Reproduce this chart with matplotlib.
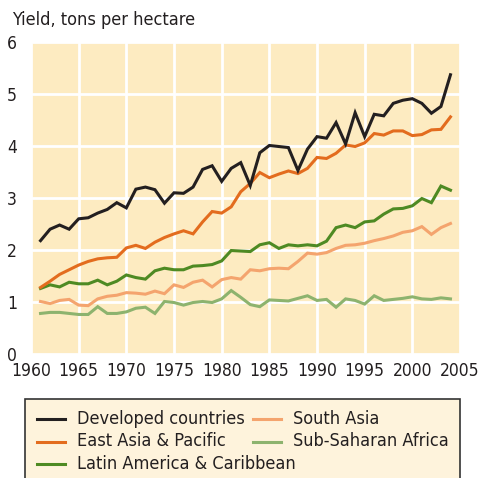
import numpy as np
import matplotlib.pyplot as plt
from matplotlib.patches import Rectangle
from matplotlib.lines import Line2D

years = list(range(1961, 2005))

developed = [2.18, 2.40, 2.48, 2.40, 2.60, 2.62, 2.71, 2.78, 2.91, 2.81,
             3.17, 3.21, 3.16, 2.90, 3.10, 3.09, 3.21, 3.55, 3.62, 3.32,
             3.57, 3.68, 3.24, 3.87, 4.01, 3.99, 3.97, 3.53, 3.94, 4.18,
             4.15, 4.45, 4.04, 4.64, 4.18, 4.61, 4.58, 4.82, 4.88, 4.91,
             4.82, 4.63, 4.76, 5.37]
east_asia = [1.28, 1.40, 1.53, 1.62, 1.71, 1.78, 1.83, 1.85, 1.86, 2.04,
             2.09, 2.03, 2.15, 2.24, 2.31, 2.37, 2.31, 2.54, 2.74, 2.71,
             2.83, 3.12, 3.28, 3.49, 3.39, 3.46, 3.52, 3.47, 3.57, 3.78,
             3.76, 3.86, 4.02, 3.99, 4.06, 4.24, 4.21, 4.29, 4.29, 4.20,
             4.22, 4.31, 4.32, 4.56]
latin_america = [1.26, 1.33, 1.29, 1.38, 1.35, 1.35, 1.42, 1.33, 1.40, 1.52,
                 1.47, 1.44, 1.60, 1.65, 1.62, 1.62, 1.69, 1.70, 1.72, 1.79,
                 1.99, 1.98, 1.97, 2.10, 2.14, 2.03, 2.10, 2.08, 2.10, 2.08,
                 2.17, 2.43, 2.48, 2.43, 2.54, 2.56, 2.69, 2.79, 2.80, 2.85,
                 2.99, 2.91, 3.23, 3.15]
south_asia = [1.01, 0.97, 1.03, 1.05, 0.94, 0.93, 1.06, 1.11, 1.13, 1.18,
              1.17, 1.15, 1.21, 1.16, 1.33, 1.28, 1.38, 1.42, 1.29, 1.43,
              1.47, 1.44, 1.62, 1.60, 1.64, 1.65, 1.64, 1.78, 1.94, 1.92,
              1.95, 2.03, 2.09, 2.10, 2.13, 2.18, 2.22, 2.27, 2.34, 2.37,
              2.45, 2.30, 2.43, 2.51]
sub_saharan = [0.78, 0.80, 0.80, 0.78, 0.76, 0.76, 0.91, 0.78, 0.78, 0.81,
               0.88, 0.90, 0.78, 1.01, 0.99, 0.94, 0.99, 1.01, 0.99, 1.06,
               1.22, 1.09, 0.95, 0.91, 1.04, 1.03, 1.02, 1.07, 1.12, 1.03,
               1.05, 0.90, 1.06, 1.03, 0.96, 1.12, 1.03, 1.05, 1.07, 1.10,
               1.06, 1.05, 1.08, 1.06]

series = [
    ("Developed countries", developed, "#231f20"),
    ("East Asia & Pacific", east_asia, "#e36c1e"),
    ("Latin America & Caribbean", latin_america, "#4e8a23"),
    ("South Asia", south_asia, "#f4a46e"),
    ("Sub-Saharan Africa", sub_saharan, "#8db36e"),
]

plt.rcParams['font.family'] = ['DejaVu Sans']
plt.rcParams['font.stretch'] = 'condensed'
txt_color = "#231f20"
W, H = 479, 478

fig = plt.figure(figsize=(4.79, 4.78), dpi=100)
ax = fig.add_axes([31/W, 1-354/H, (460-31)/W, (354-42)/H])
ax.set_facecolor("#fdebc1")

# light lines first, dark ones on top
for name, vals, col in reversed(series):
    ax.plot(years, vals, color=col, lw=2.2, solid_joinstyle='miter')

ax.set_xlim(1960, 2005)
ax.set_ylim(0, 6)
ax.set_xticks(range(1960, 2006, 5))
ax.set_yticks(range(0, 7))
ax.grid(True, color="white", lw=2)
ax.set_axisbelow(True)
for s in ax.spines.values():
    s.set_visible(False)
ax.tick_params(length=0, labelsize=12.5, colors=txt_color, pad=6)
ax.tick_params(axis='y', pad=10)

fig.text(12/W, 1-20/H, "Yield, tons per hectare", fontsize=13,
         color=txt_color, va='center', ha='left')

# legend box runs off the bottom edge, as in the original
fig.patches.append(Rectangle((25/W, -0.05), (460-25)/W, (1-399/H)+0.05,
                             transform=fig.transFigure, facecolor="#fef3dc",
                             edgecolor="#333333", lw=1.2, zorder=0))

# hand-placed legend: col 1 has 3 rows, col 2 has 2
col_x = [37, 253]
row_y = [419, 441.5, 464]
slots = [(0, 0), (0, 1), (0, 2), (1, 0), (1, 1)]
for (name, _, col), (c, r) in zip(series, slots):
    x0 = col_x[c]
    y = 1 - row_y[r]/H
    fig.add_artist(Line2D([x0/W, (x0+28)/W], [y, y], color=col, lw=2.2,
                          transform=fig.transFigure))
    fig.text((x0+40)/W, y, name, fontsize=13, color=txt_color,
             va='center', ha='left')

fig.savefig("out.png", dpi=100)
